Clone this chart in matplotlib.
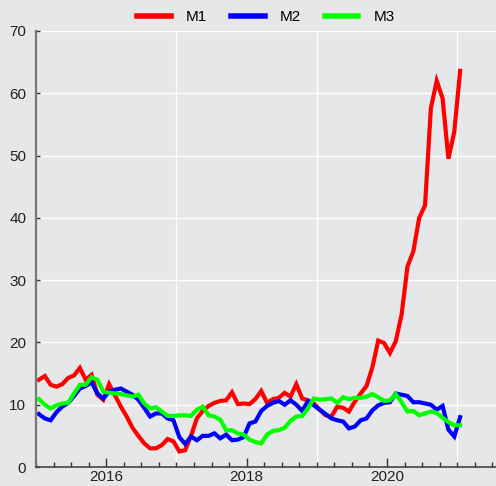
import numpy as np
import matplotlib
matplotlib.use('Agg')
import matplotlib.pyplot as plt
from matplotlib.ticker import MultipleLocator, FixedLocator

# monthly series, Jan 2015 .. Jan 2021 (mid-month)
start_year = 2015
m1 = [14.0, 14.6, 13.2, 12.9, 13.3, 14.3, 14.7, 15.9, 14.0, 14.8, 11.6, 10.8,
      13.3, 11.5, 9.7, 8.1, 6.3, 5.0, 3.8, 3.0, 3.0, 3.5, 4.5, 4.1,
      2.5, 2.7, 5.0, 7.8, 9.0, 9.8, 10.3, 10.6, 10.7, 12.0, 10.1, 10.2,
      10.1, 10.9, 12.2, 10.3, 10.9, 11.1, 11.9, 11.3, 13.3, 11.0, 10.7, 10.2,
      9.2, 8.3, 8.1, 9.7, 9.5, 8.9, 10.5, 11.8, 13.0, 16.0, 20.3, 19.9,
      18.3, 20.2, 24.5, 32.2, 34.6, 40.0, 42.0, 57.6, 62.0, 59.2, 49.5, 53.8,
      63.6]
m2 = [8.5, 7.8, 7.5, 8.8, 9.7, 10.3, 11.4, 12.6, 13.0, 13.6, 11.8, 11.0,
      12.1, 12.4, 12.6, 12.1, 11.6, 10.8, 9.5, 8.1, 8.6, 8.6, 7.8, 7.5,
      4.8, 3.7, 4.9, 4.3, 5.0, 5.0, 5.4, 4.6, 5.2, 4.3, 4.4, 4.8,
      7.0, 7.3, 9.0, 9.8, 10.3, 10.6, 10.0, 10.7, 10.0, 9.0, 10.6, 9.9,
      9.2, 8.5, 7.8, 7.5, 7.3, 6.2, 6.5, 7.5, 7.8, 9.1, 9.9, 10.3,
      10.4, 11.8, 11.6, 11.4, 10.4, 10.4, 10.2, 10.0, 9.2, 9.8, 6.0, 4.9,
      8.0]
m3 = [10.9, 10.0, 9.4, 9.9, 10.2, 10.3, 11.8, 13.2, 13.2, 14.4, 14.0, 12.1,
      11.9, 11.8, 11.7, 11.5, 11.3, 11.6, 10.2, 9.4, 9.6, 8.9, 8.2, 8.2,
      8.3, 8.3, 8.2, 9.2, 9.7, 8.3, 8.1, 7.6, 5.9, 5.9, 5.4, 5.2,
      4.4, 4.0, 3.8, 5.2, 5.8, 5.9, 6.3, 7.4, 8.1, 8.2, 9.4, 11.0,
      10.8, 10.9, 11.0, 10.3, 11.2, 10.9, 11.1, 11.1, 11.3, 11.7, 11.2, 10.6,
      10.7, 11.7, 10.4, 8.9, 9.0, 8.3, 8.6, 8.9, 8.7, 7.9, 7.2, 6.7,
      6.7]
series = [('M1', m1, '#ff0000'), ('M2', m2, '#0000ff'), ('M3', m3, '#00ff00')]
year_labels = [2016, 2018, 2020]
grid_years = [2017, 2019, 2021]

t = start_year + (np.arange(len(m1)) + 0.5) / 12

plt.rcParams['font.family'] = ['Liberation Sans', 'DejaVu Sans']
bg = '#e6e7e8'
fig = plt.figure(figsize=(4.96, 4.86), dpi=100, facecolor=bg)
ax = fig.add_axes([36 / 496, 19 / 486, 1 - 36 / 496, 436 / 486], facecolor=bg)

for name, vals, c in series:
    ax.plot(t, vals, color=c, lw=3.0, label=name, solid_joinstyle='miter')

ax.set_xlim(2015, 2015 + 460 / 70.2)
ax.set_ylim(0, 70)
ax.yaxis.set_major_locator(MultipleLocator(10))
ax.xaxis.set_major_locator(FixedLocator(year_labels))
ax.xaxis.set_minor_locator(MultipleLocator(0.25))
for y in range(10, 71, 10):
    ax.axhline(y, color='white', lw=1.0, zorder=0)
for g in grid_years:
    ax.axvline(g, color='white', lw=1.0, zorder=0)

for s in ('top', 'right'):
    ax.spines[s].set_visible(False)
ax.spines['left'].set_color('#777777')
ax.spines['left'].set_linewidth(1.6)
ax.spines['bottom'].set_color('#444444')
ax.spines['bottom'].set_linewidth(1.2)
ax.tick_params(axis='y', which='major', direction='in', length=3, width=1,
               color='#333333', labelsize=11, labelcolor='#222222', pad=7)
ax.tick_params(axis='x', which='major', direction='in', length=6.5, width=1,
               color='#333333', labelsize=11, labelcolor='#222222', pad=2.5)
ax.tick_params(axis='x', which='minor', direction='in', length=3.8, width=1,
               color='#333333')

leg = fig.legend(loc='center', bbox_to_anchor=(266 / 496, 1 - 17 / 486), ncol=3,
                 frameon=False, fontsize=11, handlelength=2.2, handletextpad=1.0,
                 columnspacing=1.55, borderpad=0)
for h in leg.get_lines():
    h.set_linewidth(4)

fig.savefig('out.png', dpi=100, facecolor=bg)
